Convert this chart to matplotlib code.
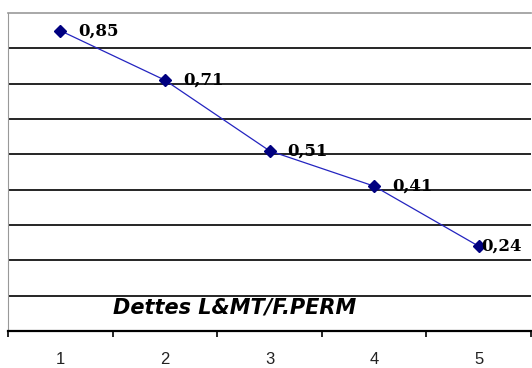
import matplotlib.pyplot as plt
import numpy as np

# ratio dettes long et moyen terme / fonds permanents
annees = [1, 2, 3, 4, 5]
ratio = [0.85, 0.71, 0.51, 0.41, 0.24]
etiquettes = ['0,85', '0,71', '0,51', '0,41', '0,24']
titre_serie = 'Dettes L&MT/F.PERM'

fig = plt.figure(figsize=(5.32, 3.68), dpi=100)
ax = fig.add_axes([8 / 532, 37 / 368, 523 / 532, 318 / 368])

ax.plot(annees, ratio, color='#2424c0', linewidth=0.9, marker='D',
        markersize=6.2, markerfacecolor='#000080', markeredgecolor='#000080', zorder=3)

# etiquettes de valeurs a droite des points
for i in range(len(annees)):
    dx = 13 if i < len(annees) - 1 else 2
    ax.annotate(etiquettes[i], (annees[i], ratio[i]), xytext=(dx, 0),
                textcoords='offset points', ha='left', va='center',
                fontsize=12, fontweight='bold', family='DejaVu Serif', color='black')

ax.set_xlim(0.5, 5.5)
ax.set_ylim(0, 0.9)
ax.set_yticks([])
for g in np.arange(0.1, 0.85, 0.1):
    ax.axhline(g, color='black', linewidth=1.2, zorder=1)

# axe des categories : graduations entre les annees, libelles au centre
ax.set_xticks(np.arange(0.5, 6.0, 1.0))
ax.set_xticklabels([])
ax.set_xticks(annees, minor=True)
ax.set_xticklabels([str(a) for a in annees], minor=True, fontsize=12,
                   family='Liberation Sans', color='#222222')
ax.tick_params(axis='x', which='major', direction='out', length=4, width=1.2, color='black')
ax.tick_params(axis='x', which='minor', length=0, pad=15)

ax.spines['bottom'].set_color('black')
ax.spines['bottom'].set_linewidth(1.6)
ax.spines['left'].set_color('#999999')
ax.spines['top'].set_color('#999999')
ax.spines['top'].set_linewidth(1.2)
ax.spines['right'].set_visible(False)

ax.text(1.5, 0.067, titre_serie, ha='left', va='center', fontsize=15,
        fontweight='bold', style='italic', family='DejaVu Sans', color='black')

fig.savefig('out.png', dpi=100)
